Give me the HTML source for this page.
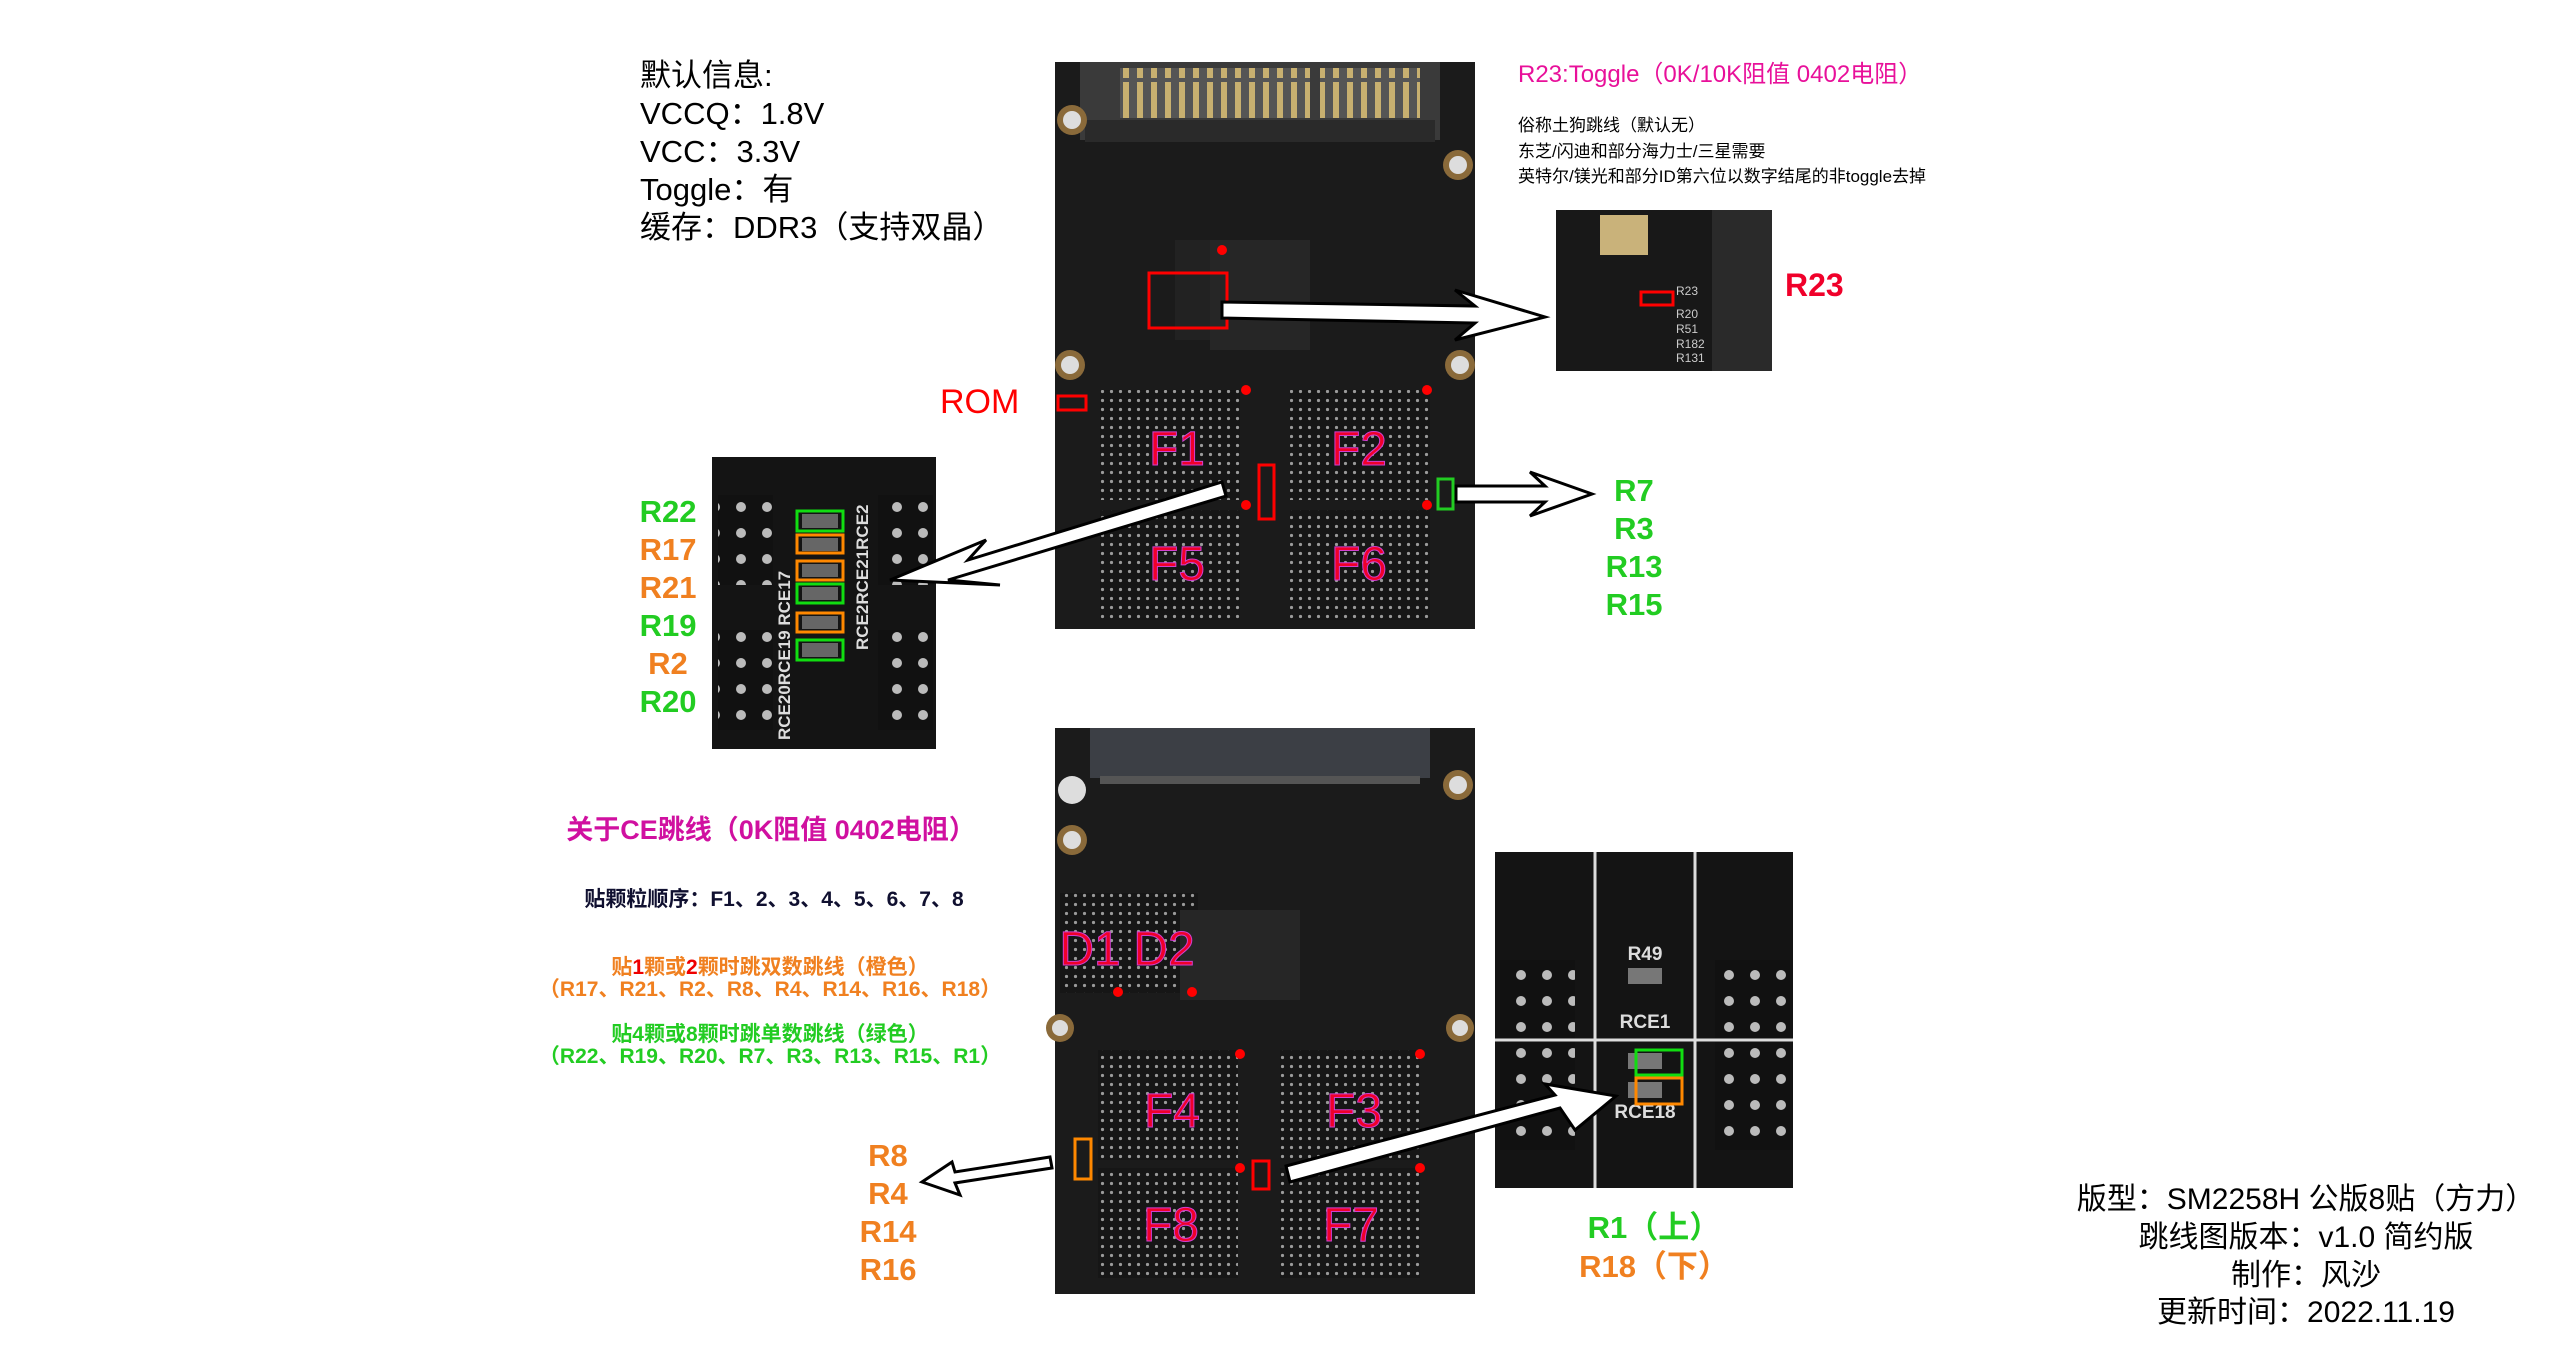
<!DOCTYPE html>
<html><head><meta charset="utf-8"><style>
html,body{margin:0;padding:0;background:#fff;width:2560px;height:1350px;overflow:hidden}
svg{display:block}
.t{font-family:"Liberation Sans","Noto Sans CJK SC",sans-serif}
</style></head><body>
<svg width="2560" height="1350" viewBox="0 0 2560 1350" xmlns="http://www.w3.org/2000/svg" class="t">
<defs>
<pattern id="dots" width="9" height="9" patternUnits="userSpaceOnUse"><rect width="9" height="9" fill="#161616"/><circle cx="4.5" cy="4.5" r="1.6" fill="#9a9a9a"/></pattern>
<pattern id="bigdots" width="26" height="26" patternUnits="userSpaceOnUse"><rect width="26" height="26" fill="#111"/><circle cx="13" cy="13" r="5" fill="#bbb"/></pattern>
<pattern id="pins" width="14" height="40" patternUnits="userSpaceOnUse"><rect width="14" height="40" fill="#555"/><rect x="3" y="2" width="6" height="36" fill="#c8b070"/></pattern>
</defs>

<g font-size="31" fill="#000">
<text x="640" y="86">默认信息:</text>
<text x="640" y="124">VCCQ：1.8V</text>
<text x="640" y="162">VCC：3.3V</text>
<text x="640" y="200">Toggle：有</text>
<text x="640" y="238">缓存：DDR3（支持双晶）</text>
</g>

<rect x="1055" y="62" width="420" height="567" fill="#1b1b1b"/>
<rect x="1080" y="62" width="360" height="78" fill="#3a3a3a"/>
<rect x="1120" y="68" width="190" height="50" fill="url(#pins)"/>
<rect x="1320" y="68" width="100" height="50" fill="url(#pins)"/>
<rect x="1085" y="120" width="350" height="22" fill="#2a2a2a"/>
<rect x="1175" y="240" width="95" height="100" fill="#222"/>
<rect x="1210" y="240" width="100" height="110" fill="#262626"/>
<circle cx="1072" cy="120" r="15" fill="#8a6a3a"/><circle cx="1072" cy="120" r="9" fill="#ddd"/>
<circle cx="1458" cy="165" r="15" fill="#8a6a3a"/><circle cx="1458" cy="165" r="9" fill="#ddd"/>
<circle cx="1070" cy="365" r="15" fill="#8a6a3a"/><circle cx="1070" cy="365" r="9" fill="#ddd"/>
<circle cx="1460" cy="365" r="15" fill="#8a6a3a"/><circle cx="1460" cy="365" r="9" fill="#ddd"/>
<rect x="1100" y="390" width="140" height="110" fill="url(#dots)"/>
<rect x="1290" y="390" width="140" height="110" fill="url(#dots)"/>
<rect x="1100" y="510" width="140" height="110" fill="url(#dots)"/>
<rect x="1290" y="510" width="140" height="110" fill="url(#dots)"/>
<g fill="#f0002a" stroke="#d040d0" stroke-width="1" font-size="48" text-anchor="middle">
<text x="1177" y="465">F1</text><text x="1359" y="465">F2</text>
<text x="1177" y="580">F5</text><text x="1359" y="580">F6</text>
</g>
<g fill="#ff0000"><circle cx="1246" cy="390" r="5"/><circle cx="1427" cy="390" r="5"/><circle cx="1246" cy="505" r="5"/><circle cx="1427" cy="505" r="5"/><circle cx="1222" cy="250" r="5"/></g>
<g fill="none" stroke-width="3">
<rect x="1149" y="273" width="78" height="55" stroke="#f00"/>
<rect x="1058" y="396" width="28" height="14" stroke="#f00"/>
<rect x="1259" y="465" width="15" height="54" stroke="#f00"/>
<rect x="1438" y="479" width="15" height="30" stroke="#2c2"/>
</g>
<text x="940" y="413" font-size="34" fill="#f00">ROM</text>

<text x="1518" y="82" font-size="24" fill="#e8109a">R23:Toggle（0K/10K阻值 0402电阻）</text>
<g font-size="17" fill="#000">
<text x="1518" y="131">俗称土狗跳线（默认无）</text>
<text x="1518" y="157">东芝/闪迪和部分海力士/三星需要</text>
<text x="1518" y="182">英特尔/镁光和部分ID第六位以数字结尾的非toggle去掉</text>
</g>
<rect x="1556" y="210" width="216" height="161" fill="#181818"/>
<rect x="1712" y="210" width="60" height="161" fill="#2a2a2a"/>
<rect x="1600" y="215" width="48" height="40" fill="#c9b27a"/>
<rect x="1641" y="292" width="32" height="13" fill="none" stroke="#f00" stroke-width="3"/>
<g fill="#ccc" font-size="12"><text x="1676" y="295">R23</text><text x="1676" y="318">R20</text><text x="1676" y="333">R51</text><text x="1676" y="348">R182</text><text x="1676" y="362">R131</text></g>
<text x="1785" y="296" font-size="32" font-weight="bold" fill="#f0002a">R23</text>

<rect x="712" y="457" width="224" height="292" fill="#141414"/>
<rect x="718" y="495" width="55" height="90" fill="url(#bigdots)"/>
<rect x="878" y="495" width="55" height="90" fill="url(#bigdots)"/>
<rect x="718" y="630" width="55" height="100" fill="url(#bigdots)"/>
<rect x="878" y="630" width="55" height="100" fill="url(#bigdots)"/>
<g fill="#ddd" font-size="17" font-weight="bold">
<text transform="translate(790,740) rotate(-90)">RCE20RCE19 RCE17</text>
<text transform="translate(868,650) rotate(-90)">RCE2RCE21RCE2</text>
</g>
<g fill="#666"><rect x="802" y="514" width="36" height="14"/><rect x="802" y="538" width="36" height="13"/><rect x="802" y="564" width="36" height="13"/><rect x="802" y="587" width="36" height="13"/><rect x="802" y="616" width="36" height="13"/><rect x="802" y="643" width="36" height="14"/></g>
<g fill="none" stroke-width="3">
<rect x="797" y="511" width="46" height="20" stroke="#1d1"/>
<rect x="797" y="535" width="46" height="18" stroke="#f80"/>
<rect x="797" y="561" width="46" height="19" stroke="#f80"/>
<rect x="797" y="584" width="46" height="19" stroke="#1d1"/>
<rect x="797" y="613" width="46" height="19" stroke="#f80"/>
<rect x="797" y="640" width="46" height="20" stroke="#1d1"/>
</g>
<g font-size="31" font-weight="bold" text-anchor="middle">
<text x="668" y="522" fill="#22cc22">R22</text>
<text x="668" y="560" fill="#f08020">R17</text>
<text x="668" y="598" fill="#f08020">R21</text>
<text x="668" y="636" fill="#22cc22">R19</text>
<text x="668" y="674" fill="#f08020">R2</text>
<text x="668" y="712" fill="#22cc22">R20</text>
</g>
<g font-size="31" font-weight="bold" text-anchor="middle" fill="#22cc22">
<text x="1634" y="501">R7</text><text x="1634" y="539">R3</text><text x="1634" y="577">R13</text><text x="1634" y="615">R15</text>
</g>

<rect x="1055" y="728" width="420" height="566" fill="#1b1b1b"/>
<rect x="1090" y="728" width="340" height="50" fill="#3c3f45"/>
<rect x="1100" y="776" width="320" height="8" fill="#555"/>
<circle cx="1072" cy="790" r="14" fill="#ddd"/>
<circle cx="1072" cy="840" r="15" fill="#8a6a3a"/><circle cx="1072" cy="840" r="9" fill="#ddd"/>
<circle cx="1458" cy="785" r="15" fill="#8a6a3a"/><circle cx="1458" cy="785" r="9" fill="#ddd"/>
<circle cx="1060" cy="1028" r="14" fill="#8a6a3a"/><circle cx="1060" cy="1028" r="8" fill="#ddd"/>
<circle cx="1460" cy="1028" r="14" fill="#8a6a3a"/><circle cx="1460" cy="1028" r="8" fill="#ddd"/>
<rect x="1060" y="893" width="70" height="100" fill="url(#dots)"/>
<rect x="1130" y="893" width="68" height="100" fill="url(#dots)"/>
<rect x="1180" y="910" width="120" height="90" fill="#262626"/>
<rect x="1098" y="1050" width="140" height="110" fill="url(#dots)"/>
<rect x="1280" y="1050" width="140" height="110" fill="url(#dots)"/>
<rect x="1098" y="1168" width="140" height="110" fill="url(#dots)"/>
<rect x="1280" y="1168" width="140" height="110" fill="url(#dots)"/>
<g fill="#f0002a" stroke="#d040d0" stroke-width="1" font-size="48" text-anchor="middle">
<text x="1090" y="965">D1</text><text x="1164" y="965">D2</text>
<text x="1172" y="1127">F4</text><text x="1354" y="1127">F3</text>
<text x="1171" y="1241">F8</text><text x="1351" y="1241">F7</text>
</g>
<g fill="#ff0000"><circle cx="1118" cy="992" r="5"/><circle cx="1192" cy="992" r="5"/><circle cx="1240" cy="1054" r="5"/><circle cx="1420" cy="1054" r="5"/><circle cx="1240" cy="1168" r="5"/><circle cx="1420" cy="1168" r="5"/></g>
<g fill="none" stroke-width="3">
<rect x="1253" y="1161" width="16" height="28" stroke="#f00"/>
<rect x="1075" y="1139" width="16" height="40" stroke="#f80"/>
</g>

<rect x="1495" y="852" width="298" height="336" fill="#141414"/>
<rect x="1500" y="960" width="75" height="190" fill="url(#bigdots)"/>
<rect x="1715" y="960" width="75" height="190" fill="url(#bigdots)"/>
<g fill="none" stroke="#ddd" stroke-width="3"><line x1="1595" y1="852" x2="1595" y2="1188"/><line x1="1695" y1="852" x2="1695" y2="1188"/><line x1="1495" y1="1040" x2="1793" y2="1040"/></g>
<g fill="#ddd" font-size="19" font-weight="bold" text-anchor="middle"><text x="1645" y="960">R49</text><text x="1645" y="1028">RCE1</text><text x="1645" y="1118">RCE18</text></g>
<g fill="#777"><rect x="1628" y="968" width="34" height="16"/><rect x="1628" y="1053" width="34" height="16"/><rect x="1628" y="1082" width="34" height="16"/></g>
<rect x="1636" y="1050" width="46" height="25" fill="none" stroke="#1d1" stroke-width="3"/>
<rect x="1636" y="1078" width="46" height="26" fill="none" stroke="#f80" stroke-width="3"/>
<g font-size="31" font-weight="bold" text-anchor="middle">
<text x="1654" y="1238" fill="#22cc22">R1（上）</text>
<text x="1654" y="1277" fill="#f08020">R18（下）</text>
</g>
<g font-size="31" font-weight="bold" text-anchor="middle" fill="#f08020">
<text x="888" y="1166">R8</text><text x="888" y="1204">R4</text><text x="888" y="1242">R14</text><text x="888" y="1280">R16</text>
</g>

<text x="771" y="839" font-size="27" font-weight="bold" fill="#d010a0" text-anchor="middle">关于CE跳线（0K阻值 0402电阻）</text>
<text x="774" y="906" font-size="21" font-weight="bold" fill="#101030" text-anchor="middle">贴颗粒顺序：F1、2、3、4、5、6、7、8</text>
<text x="770" y="974" font-size="21" font-weight="bold" fill="#f08020" text-anchor="middle">贴<tspan fill="#e00">1</tspan>颗或<tspan fill="#e00">2</tspan>颗时跳双数跳线（橙色）</text>
<text x="770" y="996" font-size="21" font-weight="bold" fill="#f08020" text-anchor="middle">（R17、R21、R2、R8、R4、R14、R16、R18）</text>
<text x="770" y="1041" font-size="21" font-weight="bold" fill="#22cc22" text-anchor="middle">贴4颗或8颗时跳单数跳线（绿色）</text>
<text x="770" y="1063" font-size="21" font-weight="bold" fill="#22cc22" text-anchor="middle">（R22、R19、R20、R7、R3、R13、R15、R1）</text>

<g font-size="30" fill="#000" text-anchor="middle">
<text x="2306" y="1209">版型：SM2258H 公版8贴（方力）</text>
<text x="2306" y="1247">跳线图版本：v1.0 简约版</text>
<text x="2306" y="1285">制作：风沙</text>
<text x="2306" y="1322">更新时间：2022.11.19</text>
</g>

<g fill="#fff" stroke="#000" stroke-width="3" stroke-linejoin="miter">
<polygon points="1222,302 1475,306 1455,290 1545,317 1455,340 1475,323 1222,318"/>
<polygon points="1222,482 1226,496 948,580 1000,585 890,580 986,540 968,560"/>
<polygon points="1456,486 1545,486 1530,472 1592,494 1530,516 1545,502 1456,502"/>
<polygon points="1286,1166 1290,1182 1560,1108 1575,1130 1616,1096 1545,1084 1555,1095"/>
<polygon points="1050,1157 1052,1168 955,1183 960,1195 922,1182 952,1162 955,1172"/>
</g>
</svg>
</body></html>
